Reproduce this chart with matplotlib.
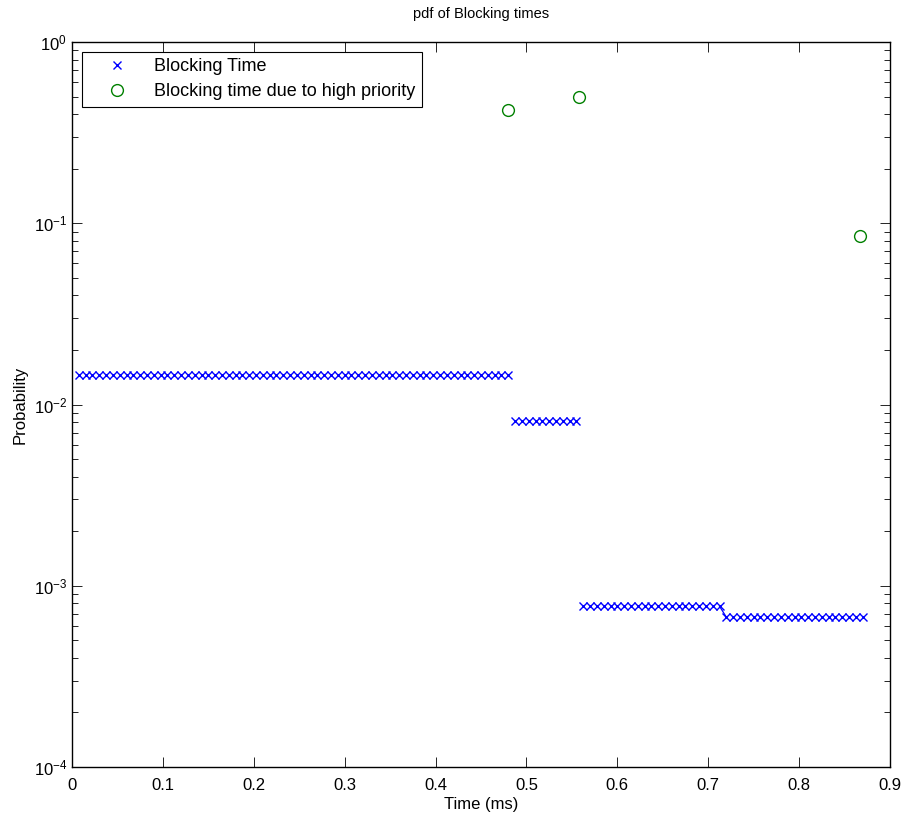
"""
plot.py

Plots the pdf of blocking times on a log scale (MATLAB style figure).
"""
import matplotlib
matplotlib.use("Agg")
import matplotlib.pyplot as plt
from matplotlib.lines import Line2D
from matplotlib.ticker import LogLocator, MultipleLocator

# blocking time pdf, split into the flat runs seen in the figure
seg1_x = [0.0075, 0.015, 0.0225, 0.03, 0.0375, 0.045, 0.0525, 0.06, 0.0675, 0.075,
          0.0825, 0.09, 0.0975, 0.105, 0.1125, 0.12, 0.1275, 0.135, 0.1425, 0.15,
          0.1575, 0.165, 0.1725, 0.18, 0.1875, 0.195, 0.2025, 0.21, 0.2175, 0.225,
          0.2325, 0.24, 0.2475, 0.255, 0.2625, 0.27, 0.2775, 0.285, 0.2925, 0.3,
          0.3075, 0.315, 0.3225, 0.33, 0.3375, 0.345, 0.3525, 0.36, 0.3675, 0.375,
          0.3825, 0.39, 0.3975, 0.405, 0.4125, 0.42, 0.4275, 0.435, 0.4425, 0.45,
          0.4575, 0.465, 0.4725, 0.48]
seg2_x = [0.4875, 0.495, 0.5025, 0.51, 0.5175, 0.525, 0.5325, 0.54, 0.5475, 0.555]
seg3_x = [0.5625, 0.57, 0.5775, 0.585, 0.5925, 0.6, 0.6075, 0.615, 0.6225, 0.63,
          0.6375, 0.645, 0.6525, 0.66, 0.6675, 0.675, 0.6825, 0.69, 0.6975, 0.705,
          0.7125]
seg4_x = [0.72, 0.7275, 0.735, 0.7425, 0.75, 0.7575, 0.765, 0.7725, 0.78, 0.7875,
          0.795, 0.8025, 0.81, 0.8175, 0.825, 0.8325, 0.84, 0.8475, 0.855, 0.8625,
          0.87]
seg_levels = [0.0145, 0.0081, 0.00077, 0.00067]

# blocking time due to high priority
high_x = [0.48, 0.5575, 0.867]
high_y = [0.42, 0.50, 0.085]

plt.rcParams["font.family"] = ["Liberation Sans", "DejaVu Sans"]
plt.rcParams["mathtext.default"] = "regular"
plt.rcParams["axes.unicode_minus"] = False

fig = plt.figure(figsize=(9.02, 8.21), dpi=100)
ax = fig.add_axes([0.0798, 0.0658, 0.9069, 0.883])

blue = (0, 0, 1)
green = (0, 0.5, 0)
mk = dict(linestyle="none", marker="x", markersize=5.2, markeredgewidth=1.0, color=blue)

ax.plot(seg1_x, [seg_levels[0]] * len(seg1_x), **mk)
ax.plot(seg2_x, [seg_levels[1]] * len(seg2_x), **mk)
ax.plot(seg3_x, [seg_levels[2]] * len(seg3_x), **mk)
ax.plot(seg4_x, [seg_levels[3]] * len(seg4_x), **mk)
# the short joining stroke between the last two runs
ax.plot([seg3_x[-1], seg4_x[0]], [seg_levels[2], seg_levels[3]], color=blue, linewidth=0.9)
ax.plot(high_x, high_y, linestyle="none", marker="o", markersize=8.5,
        markerfacecolor="none", markeredgecolor=green, markeredgewidth=1.0)

ax.set_yscale("log")
ax.set_xlim(0, 0.9)
ax.set_ylim(1e-4, 1e0)
ax.xaxis.set_major_locator(MultipleLocator(0.1))
ax.xaxis.set_major_formatter(plt.FuncFormatter(lambda v, p: f"{v:g}"))
ax.yaxis.set_major_locator(LogLocator(base=10, numticks=10))
ax.yaxis.set_minor_locator(LogLocator(base=10, subs=range(2, 10), numticks=10))
ax.yaxis.set_minor_formatter(plt.NullFormatter())

ax.tick_params(which="both", direction="in", top=True, right=True, labelsize=12)
ax.tick_params(which="major", length=7, width=0.6)
ax.tick_params(which="minor", length=4, width=0.6)
ax.tick_params(axis="x", pad=8)
for s in ax.spines.values():
    s.set_linewidth(1.0)

ax.set_xlabel("Time (ms)", fontsize=12, labelpad=3)
ax.set_ylabel("Probability", fontsize=12, labelpad=4)
ax.set_title("pdf of Blocking times", fontsize=10.5, pad=17)

handles = [
    Line2D([], [], linestyle="none", marker="x", markersize=6, markeredgewidth=1.0, color=blue),
    Line2D([], [], linestyle="none", marker="o", markersize=8.5, markerfacecolor="none",
           markeredgecolor=green, markeredgewidth=1.0),
]
leg = ax.legend(handles, ["Blocking Time", "Blocking time due to high priority"],
                loc="upper left", fancybox=False, framealpha=1, edgecolor="black",
                borderaxespad=0.55, handlelength=3.2, handletextpad=0.45,
                borderpad=0.35, labelspacing=0.45, fontsize=13)
leg.get_frame().set_linewidth(0.8)

plt.savefig("out.png", dpi=100)
